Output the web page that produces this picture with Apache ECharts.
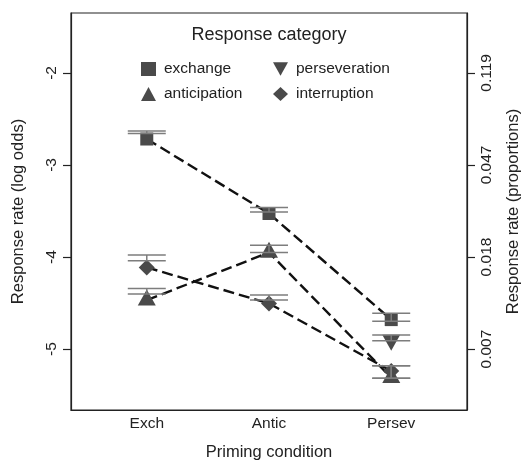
<!DOCTYPE html>
<html>
<head>
<meta charset="utf-8">
<script src="https://cdn.jsdelivr.net/npm/echarts@6/dist/echarts.min.js"></script>
<style>html,body{margin:0;padding:0;background:#fff}#c{width:530px;height:461px}</style>
</head>
<body>
<div id="c"></div>
<script>
// ---- data ----
var categories = ['Exch', 'Antic', 'Persev'];
var leftTicks = [-5, -4, -3, -2];
var rightTickLabels = ['0.007', '0.018', '0.047', '0.119'];

var exchange      = [-2.718, -3.527, -4.68];
var anticipation  = [-4.468, -3.951, -5.311];
var interruption  = [-4.113, -4.504, -5.239];
var perseveration = [null, null, -4.903];

// error bar bounds (upper line, lower line)
var exchangeHi      = [-2.630, -3.461, -4.612];
var exchangeLo      = [-2.658, -3.512, -4.698];
var anticipationHi  = [-4.341, -3.871, -5.182];
var anticipationLo  = [-4.403, -3.950, -5.316];
var interruptionHi  = [-3.979, -4.414, -5.182];
var interruptionLo  = [-4.041, -4.468, -5.316];
var perseverationHi = [null, null, -4.848];
var perseverationLo = [null, null, -4.910];

var FONT = '"Liberation Sans", Arial, Helvetica, sans-serif';
var TXT = '#222';
var MARK = '#4a4a4a';

function pts(vals) {
  var out = [];
  vals.forEach(function (v, i) { if (v !== null) out.push([i + 1, v]); });
  return out;
}
function bars(hi, lo) {
  var out = [];
  hi.forEach(function (h, i) { if (h !== null) out.push([i + 1, h, lo[i]]); });
  return out;
}
var barData = [].concat(
  bars(exchangeHi, exchangeLo),
  bars(anticipationHi, anticipationLo),
  bars(interruptionHi, interruptionLo),
  bars(perseverationHi, perseverationLo)
);

var downTri = 'path://M0,0L20,0L10,18Z';

function lineSeries(name, vals, symbol, size, offset, showLine) {
  return {
    name: name, type: 'line', data: pts(vals), z: 3,
    symbol: symbol, symbolSize: size, symbolOffset: offset || [0, 0],
    showSymbol: true,
    itemStyle: { color: MARK },
    lineStyle: showLine === false ? { width: 0, opacity: 0 } : { color: '#111', width: 2.4, type: [11, 5] },
    emphasis: { disabled: true },
    animation: false
  };
}

var legendCommon = {
  orient: 'vertical', top: 61, padding: 0, itemWidth: 15, itemHeight: 14, itemGap: 9,
  textStyle: { fontSize: 15.5, color: TXT, fontFamily: FONT, padding: [0, 0, 0, 3] },
  itemStyle: { color: MARK, borderWidth: 0 },
  selectedMode: false
};

var chart = echarts.init(document.getElementById('c'), null, { renderer: 'canvas' });
chart.setOption({
  animation: false,
  textStyle: { fontFamily: FONT },
  grid: { left: 71, top: 13, width: 396, height: 397, outerBoundsMode: 'none', containLabel: false, show: true, borderColor: '#222', borderWidth: 1.2, backgroundColor: 'transparent' },
  graphic: [{
    type: 'text', x: 269, y: 35,
    style: { text: 'Response category', font: '18px ' + FONT, fill: TXT, align: 'center', verticalAlign: 'middle' }
  }],
  legend: [
    Object.assign({}, legendCommon, { left: 141, data: [{ name: 'exchange', icon: 'rect' }, { name: 'anticipation', icon: 'triangle' }] }),
    Object.assign({}, legendCommon, { left: 273, data: [{ name: 'perseveration', icon: downTri }, { name: 'interruption', icon: 'diamond' }] })
  ],
  xAxis: {
    type: 'value', min: 0.38, max: 3.62,
    name: 'Priming condition', nameLocation: 'middle', nameGap: 34,
    nameTextStyle: { fontSize: 16.5, color: TXT, fontFamily: FONT },
    axisLine: { show: true, lineStyle: { color: '#222', width: 1.2 } },
    axisTick: { show: false },
    splitLine: { show: false },
    axisLabel: {
      customValues: [1, 2, 3], margin: 6, fontSize: 15.5, color: TXT, fontFamily: FONT,
      formatter: function (v) { return categories[Math.round(v) - 1]; }
    }
  },
  yAxis: [{
    type: 'value', min: -5.662, max: -1.349, position: 'left',
    name: 'Response rate (log odds)', nameLocation: 'middle', nameRotate: 90, nameGap: 44,
    nameTextStyle: { fontSize: 16.5, color: TXT, fontFamily: FONT },
    axisLine: { show: true, lineStyle: { color: '#222', width: 1.2 } },
    axisTick: { show: true, customValues: leftTicks, length: 8, lineStyle: { color: '#222', width: 1.2 } },
    splitLine: { show: false },
    axisLabel: { customValues: leftTicks, rotate: 90, margin: 11, fontSize: 15.5, color: TXT, fontFamily: FONT }
  }, {
    type: 'value', min: -5.662, max: -1.349, position: 'right',
    name: 'Response rate (proportions)', nameLocation: 'middle', nameRotate: 90, nameGap: 38,
    nameTextStyle: { fontSize: 16.5, color: TXT, fontFamily: FONT },
    axisLine: { show: true, lineStyle: { color: '#222', width: 1.2 } },
    axisTick: { show: true, customValues: leftTicks, length: 8, lineStyle: { color: '#222', width: 1.2 } },
    splitLine: { show: false },
    axisLabel: {
      customValues: leftTicks, rotate: 90, margin: 12, fontSize: 15.5, color: TXT, fontFamily: FONT,
      formatter: function (v) { return rightTickLabels[leftTicks.indexOf(Math.round(v))]; }
    }
  }],
  series: [
    lineSeries('exchange', exchange, 'rect', 13),
    lineSeries('anticipation', anticipation, 'triangle', [18, 16], [0, -2.7]),
    lineSeries('interruption', interruption, 'diamond', [16, 16]),
    lineSeries('perseveration', perseveration, downTri, [18, 16], [0, 2.7], false),
    {
      type: 'custom', name: 'errbars', z: 4, data: barData,
      encode: { x: 0, y: [1, 2] },
      renderItem: function (params, api) {
        var a = api.coord([api.value(0), api.value(1)]);
        var b = api.coord([api.value(0), api.value(2)]);
        var hw = 19;
        var st = { stroke: '#7d7d7d', lineWidth: 1.5 };
        return {
          type: 'group', children: [
            { type: 'line', shape: { x1: a[0] - hw, y1: a[1], x2: a[0] + hw, y2: a[1] }, style: st },
            { type: 'line', shape: { x1: b[0] - hw, y1: b[1], x2: b[0] + hw, y2: b[1] }, style: st },
            { type: 'line', shape: { x1: a[0], y1: a[1], x2: b[0], y2: b[1] }, style: st }
          ]
        };
      },
      animation: false
    }
  ]
});
</script>
</body>
</html>
